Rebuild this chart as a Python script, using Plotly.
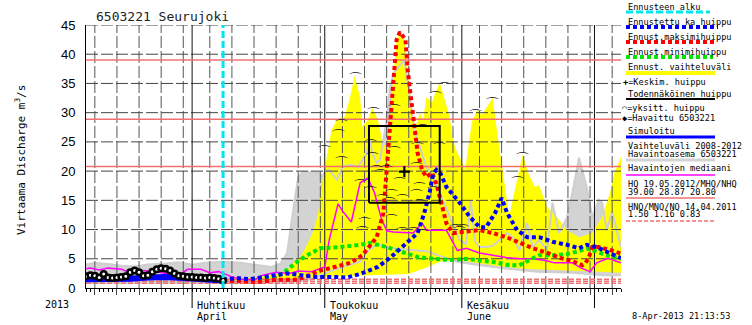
import plotly.graph_objects as go
import pandas as pd

YEAR = "2013"


def to_dates(items):
    out = []
    for s in items:
        if " " in s:
            day, hour = s.split(" ")
            out.append(pd.Timestamp(f"{YEAR}-{day} {hour}:00"))
        else:
            out.append(pd.Timestamp(f"{YEAR}-{s}"))
    return out


# ---------------- data ----------------
station_title = "6503221 Seurujoki"
y_title = "Virtaama Discharge m<sup>3</sup>/s"
x_start, x_end = "03-08", "07-07"
forecast_start = "04-08"
run_stamp = "8-Apr-2013 21:13:53"
year_label = "2013"
month_starts = ["04-01", "05-01", "06-01", "07-01"]
month_fi = ["Huhtikuu", "Toukokuu", "Kesäkuu", "Heinäkuu"]
month_en = ["April", "May", "June", "July"]
y_ticks = [0, 5, 10, 15, 20, 25, 30, 35, 40, 45]
grid_days = [5, 10, 15, 20, 25, 30]

hq_values = [39.00, 28.87, 20.80]      # HQ / MHQ / NHQ
hq_date = "19.05.2012"
lowq_values = [1.50, 1.16, 0.83]       # HNQ / MNQ / NQ
lowq_date = "14.04.2011"

# observed (Havaittu)
obs_dates = [f"03-{d:02d}" for d in range(8, 32)] + [f"04-{d:02d}" for d in range(1, 9)]
obs_values = [2.0, 2.2, 2.1, 1.8, 2.4, 1.8, 1.7, 1.8, 1.9, 2.0, 2.7, 3.0, 2.7, 2.1,
              2.2, 2.8, 3.2, 3.4, 3.3, 3.0, 2.5, 2.1, 2.0, 1.9, 1.9, 1.8, 1.8, 1.7,
              1.8, 1.7, 1.6, 1.3]

# simulated (Simuloitu)
sim_dates = ["03-08", "03-13", "03-18", "03-22", "03-26", "03-30", "04-03", "04-06", "04-08"]
sim_values = [1.5, 1.5, 1.6, 1.8, 1.9, 1.7, 1.6, 1.5, 1.3]

# median of observations (Havaintojen mediaani)
med_dates = ["03-08", "03-09", "03-11", "03-13", "03-16", "03-18", "03-21", "03-24", "03-26",
             "03-29", "03-31", "04-03", "04-05", "04-07", "04-10", "04-12", "04-15", "04-17",
             "04-20", "04-23", "04-25", "04-28", "05-01", "05-02", "05-04", "05-05", "05-07",
             "05-09", "05-10 18", "05-12 06", "05-13 18", "05-15", "05-16 12", "05-21", "05-23",
             "05-24", "05-28 12", "05-31", "06-02", "06-05", "06-08", "06-11", "06-14",
             "06-17", "06-20", "06-22", "06-26", "06-28", "06-30", "07-01 12", "07-04",
             "07-06 12", "07-07"]
med_values = [3.3, 3.4, 3.1, 3.4, 3.2, 2.6, 3.0, 2.8, 2.5, 2.2, 3.2, 3.2, 2.6, 2.8, 1.9,
              1.5, 1.4, 2.2, 2.7, 2.5, 2.9, 2.8, 3.6, 8.2, 14.4, 13.2, 11.3, 18.0, 18.8,
              16.3, 12.0, 9.8, 9.6, 9.4, 11.1, 9.9, 9.9, 6.4, 6.8, 6.0, 5.6, 5.2, 5.0,
              5.0, 4.7, 4.3, 4.3, 3.4, 2.8, 4.3, 5.1, 4.5, 4.3]

# forecast mean (Ennustettu ka huippu)
mean_dates = ["04-08", "04-11", "04-14", "04-18", "04-20", "04-22 12", "04-25 12", "04-29",
              "05-03", "05-06", "05-09", "05-13", "05-16", "05-18 12", "05-22", "05-23 12",
              "05-24 18", "05-25 12", "05-26 06", "05-27 06", "05-28 12", "05-31 12",
              "06-02 18", "06-05", "06-06 12", "06-08 12", "06-10", "06-11 06", "06-13 12",
              "06-15 18", "06-18 12", "06-21 12", "06-24 18", "06-27 12", "06-29 06",
              "07-01 12", "07-03 18", "07-06 12", "07-07"]
mean_values = [1.4, 1.7, 1.5, 1.9, 2.2, 2.5, 2.2, 1.9, 1.9, 1.8, 2.4, 3.6, 5.3, 7.0, 9.4,
               12.8, 16.5, 19.5, 20.2, 19.5, 17.3, 14.6, 12.2, 10.4, 10.4, 12.8, 15.4, 12.8,
               9.9, 8.7, 8.7, 7.9, 7.4, 6.8, 7.4, 7.0, 6.2, 5.3, 5.1]

# forecast maximum (Ennust. maksimihuippu)
max_dates = ["04-08", "04-12", "04-15 18", "04-20", "04-24 18", "04-27 12", "04-30",
             "05-02 18", "05-06 18", "05-09 12", "05-12 18", "05-14 06", "05-15", "05-15 18",
             "05-16 12", "05-17 06", "05-18", "05-19 06", "05-19 18", "05-20 18", "05-21 12",
             "05-22", "05-23", "05-24", "05-25 06", "05-26 06", "05-27 18", "05-28 12",
             "05-30", "05-31", "06-02 18", "06-05", "06-08", "06-11", "06-14", "06-17",
             "06-20", "06-23", "06-26", "06-28 06", "06-29", "06-29 18", "06-30 12", "07-02",
             "07-04 12", "07-06 12", "07-07"]
max_values = [1.3, 1.1, 1.0, 1.4, 1.4, 2.2, 3.0, 3.5, 4.3, 5.6, 8.7, 12.8, 20.2, 28.8, 36.0,
              42.5, 43.8, 42.5, 37.3, 30.5, 25.9, 23.1, 20.2, 19.0, 19.7, 17.8, 13.4, 11.1,
              9.4, 9.5, 9.8, 9.9, 9.4, 8.7, 7.8, 6.8, 6.1, 5.2, 4.6, 3.9, 4.3, 5.3, 7.0, 7.0,
              6.5, 6.0, 5.9]

# forecast minimum (Ennust. minimihuippu)
min_dates = ["04-08", "04-15", "04-20", "04-21 12", "04-24 18", "04-27", "04-30", "05-04 12",
             "05-09", "05-11 06", "05-15", "05-18", "05-22", "05-25 12", "05-29 06", "06-02",
             "06-05", "06-08 12", "06-11 18", "06-14", "06-15 18", "06-18 12", "06-21 12",
             "06-24 18", "06-27 12", "06-29 06", "07-01 12", "07-03 18", "07-06 12", "07-07"]
min_values = [1.4, 1.5, 2.0, 2.5, 4.5, 5.6, 6.8, 7.0, 7.4, 7.7, 7.0, 6.2, 5.3, 5.0, 4.8, 5.0,
              4.7, 4.4, 3.9, 3.9, 4.6, 5.6, 5.6, 5.8, 6.3, 6.8, 6.2, 5.6, 5.1, 5.0]

# forecast range (Ennust. vaihteluväli)
fc_hi_dates = ["04-08", "04-15", "04-20", "04-22 12", "04-24", "04-25 12", "04-27", "04-28 12",
               "04-29 12", "04-30 12", "05-01 18", "05-02 12", "05-03 18", "05-05 12",
               "05-06 18", "05-07 18", "05-09", "05-09 12", "05-10 18", "05-11 18", "05-13",
               "05-14", "05-15", "05-15 18", "05-16 12", "05-17 06", "05-18", "05-19",
               "05-19 18", "05-20 18", "05-21 12", "05-22 12", "05-23 06", "05-24", "05-25 06",
               "05-26", "05-27", "05-28", "05-29 06", "05-30", "05-31", "05-31 12", "06-01 18",
               "06-03 06", "06-04 12", "06-05 12", "06-07 06", "06-08", "06-09", "06-10 06",
               "06-11 18", "06-12 12", "06-13 18", "06-14 18", "06-16", "06-17 12", "06-18 12",
               "06-20 06", "06-22 12", "06-24 18", "06-27 12", "06-30 12", "07-02 18",
               "07-04 12", "07-05 12", "07-07"]
fc_hi_values = [1.5, 1.8, 2.4, 3.0, 4.5, 5.3, 7.4, 9.9, 12.8, 18.5, 23.6, 27.0, 28.8, 29.3,
                32.7, 36.3, 32.7, 27.6, 28.8, 30.8, 28.8, 25.3, 23.6, 29.0, 36.0, 42.5, 43.8,
                42.5, 37.3, 30.5, 27.6, 30.0, 28.8, 32.7, 31.7, 33.4, 35.1, 32.7, 29.3, 25.3,
                23.1, 22.4, 20.2, 28.3, 30.5, 29.6, 31.7, 32.5, 26.5, 19.7, 12.2, 15.1, 19.7,
                22.8, 19.7, 17.3, 17.6, 13.9, 12.2, 9.9, 8.7, 9.4, 12.2, 16.3, 19.7, 22.4]
fc_lo_dates = ["04-08", "04-15", "04-22", "04-26", "04-30", "05-10", "05-20", "05-24", "05-27",
               "05-31", "06-04", "06-10", "06-15", "06-20", "06-25", "06-30", "07-07"]
fc_lo_values = [1.3, 1.2, 1.4, 1.8, 2.0, 2.2, 2.4, 3.5, 4.5, 4.8, 4.3, 3.7, 3.3, 3.1, 2.9,
                2.8, 2.6]

# range 2008-2012 (Vaihteluväli 2008-2012)
hist_hi_dates = ["03-08", "03-10", "03-13", "03-16", "03-19", "03-22", "03-26", "03-29",
                 "04-01", "04-04", "04-08", "04-12", "04-16", "04-19", "04-21", "04-22 12",
                 "04-23 18", "04-25", "04-26", "04-28 12", "04-29 18", "04-30 12", "05-01",
                 "05-02", "05-03 18", "05-05", "05-07", "05-08 12", "05-09 12", "05-10 12",
                 "05-11 06", "05-11 18", "05-12 18", "05-13 12", "05-14", "05-15", "05-15 18",
                 "05-16 18", "05-19", "05-20 06", "05-21", "05-21 18", "05-22 12", "05-24",
                 "05-25 12", "05-27", "05-28 12", "05-30", "05-31 12", "06-02", "06-03",
                 "06-04", "06-05", "06-06 12", "06-08", "06-11 06", "06-12 12", "06-14",
                 "06-15 18", "06-17", "06-18 12", "06-20 06", "06-21 12", "06-23", "06-24 18",
                 "06-26", "06-27 12", "06-29 06", "06-30 12", "07-02", "07-02 18", "07-03 18",
                 "07-05", "07-07"]
hist_hi_values = [4.0, 4.3, 4.1, 3.8, 3.7, 4.0, 4.2, 4.4, 4.0, 4.3, 4.5, 4.3, 3.9, 3.6, 4.2,
                  6.0, 12.8, 19.0, 19.9, 19.7, 19.7, 19.0, 19.9, 20.2, 18.5, 20.7, 21.1, 20.7,
                  21.9, 23.1, 25.3, 23.1, 21.4, 21.9, 24.1, 28.8, 34.4, 37.0, 39.0, 32.7, 28.8,
                  25.9, 24.1, 20.7, 19.0, 16.3, 13.9, 11.0, 8.2, 7.5, 15.1, 8.0, 7.0, 7.0, 7.2,
                  9.4, 8.7, 6.5, 11.1, 7.0, 8.2, 6.5, 14.6, 9.4, 12.0, 16.3, 22.3, 17.3, 12.0,
                  15.1, 14.6, 9.9, 13.0, 7.0]
hist_lo_dates = ["03-08", "04-24", "04-28", "05-02", "05-05", "05-09", "05-11", "05-13",
                 "05-16", "05-20", "05-24", "05-27", "05-31", "06-04", "06-10", "06-18",
                 "06-26", "07-03", "07-07"]
hist_lo_values = [0.85, 0.9, 1.5, 2.8, 3.6, 4.5, 6.5, 7.5, 6.8, 6.5, 6.3, 5.5, 4.5, 4.0, 3.4,
                  2.8, 2.6, 2.2, 2.2]

# single scenario peaks (yksitt. huippu)
peak_dates = ["05-01", "05-04", "05-04 18", "05-04 18", "05-08", "05-09", "05-10", "05-09 12",
              "05-11 06", "05-11 18", "05-12", "05-12 18", "05-13 12", "05-11 06", "05-15 18",
              "05-16", "05-16 18", "05-16 18", "05-18", "05-18 12", "05-18 12", "05-21",
              "05-21 18", "05-22", "05-22 12", "05-22 12", "05-23", "05-21 18", "05-25 12",
              "05-27", "05-26", "05-28", "05-30 12", "05-31 12", "06-01 06", "06-04", "06-08",
              "06-13 12", "06-14 18", "05-23", "05-14", "05-15", "05-16"]
peak_values = [24.3, 27.0, 28.8, 22.4, 36.8, 18.5, 12.0, 10.4, 25.3, 23.1, 30.8, 21.0, 20.2,
               17.3, 15.4, 16.8, 24.1, 31.3, 18.8, 15.9, 10.3, 10.3, 16.8, 24.8, 18.0, 15.1,
               10.0, 21.4, 17.3, 24.8, 33.6, 35.1, 10.8, 10.4, 10.8, 30.5, 32.5, 19.0, 23.1,
               27.9, 15.9, 21.0, 12.5]

# probable peak (Todennäköinen huippu) and mean peak (Keskim. huippu)
box_dates = ["05-11", "05-27"]
box_values = [14.6, 27.7]
mean_peak_date = "05-19"
mean_peak_value = 19.9

# ---------------- styles ----------------
C_GRAY = "#d3d3d3"
C_YEL = "#ffff00"
C_RED = "#ff0000"
C_BLUE = "#0000ff"
C_GREEN = "#00e600"
C_MAG = "#ff00ff"
C_CYAN = "#00e5ee"
C_HQ = "#f07070"
DOT = "4px,3px"
MONO = "DejaVu Sans Mono"

PLOT_L, PLOT_R, PLOT_T, PLOT_B = 86, 621, 25, 288


def px_x(p):
    return (p - PLOT_L) / (PLOT_R - PLOT_L)


def px_y(p):
    return (PLOT_B - p) / (PLOT_B - PLOT_T)


X0, X1 = to_dates([x_start, x_end])
fig = go.Figure()

# gray historical band
hh, hl = to_dates(hist_hi_dates), to_dates(hist_lo_dates)
fig.add_trace(go.Scatter(x=hh + hl[::-1], y=hist_hi_values + hist_lo_values[::-1],
                         fill="toself", fillcolor=C_GRAY, line=dict(width=0), mode="lines"))
# yellow forecast band
fh, fl = to_dates(fc_hi_dates), to_dates(fc_lo_dates)
fig.add_trace(go.Scatter(x=fh + fl[::-1], y=fc_hi_values + fc_lo_values[::-1],
                         fill="toself", fillcolor=C_YEL, line=dict(width=0), mode="lines"))
# gray band edges visible over yellow
fig.add_trace(go.Scatter(x=hh, y=hist_hi_values, mode="lines", line=dict(color="#cfcfcf", width=2)))
fig.add_trace(go.Scatter(x=hl, y=hist_lo_values, mode="lines", line=dict(color="#cfcfcf", width=2)))

# grid lines (drawn above the bands, as in the original)
grid_x = []
for m in [3, 4, 5, 6, 7]:
    for d in grid_days:
        t = pd.Timestamp(f"{YEAR}-{m:02d}-{d:02d}")
        if X0 < t < X1:
            grid_x.append(t)
gx, gy = [], []
for t in grid_x:
    gx += [t, t, None]
    gy += [0, 45, None]
fig.add_trace(go.Scatter(x=gx, y=gy, mode="lines", line=dict(color="#555555", width=1, dash="12px,3px")))
hx, hy = [], []
for v in y_ticks[1:]:
    hx += [X0, X1, None]
    hy += [v, v, None]
fig.add_trace(go.Scatter(x=hx, y=hy, mode="lines", line=dict(color="#444444", width=1, dash="12px,3px")))
ms = to_dates(month_starts)
mx, my = [], []
for t in ms:
    mx += [t, t, None]
    my += [0, 45, None]
fig.add_trace(go.Scatter(x=mx, y=my, mode="lines", line=dict(color="#111111", width=1)))

# HQ / MHQ / NHQ and HNQ / MNQ / NQ
for v in hq_values:
    fig.add_trace(go.Scatter(x=[X0, X1], y=[v, v], mode="lines", line=dict(color=C_HQ, width=1.5)))
for v in lowq_values:
    fig.add_trace(go.Scatter(x=[X0, X1], y=[v, v], mode="lines",
                             line=dict(color=C_HQ, width=1.5, dash="5px,2px")))

# series
fig.add_trace(go.Scatter(x=to_dates(med_dates), y=med_values, mode="lines", line=dict(color=C_MAG, width=1.5)))
fig.add_trace(go.Scatter(x=to_dates(min_dates), y=min_values, mode="lines", line=dict(color=C_GREEN, width=4, dash=DOT)))
fig.add_trace(go.Scatter(x=to_dates(max_dates), y=max_values, mode="lines", line=dict(color=C_RED, width=4, dash=DOT)))
fig.add_trace(go.Scatter(x=to_dates(mean_dates), y=mean_values, mode="lines", line=dict(color=C_BLUE, width=4, dash=DOT)))
fig.add_trace(go.Scatter(x=to_dates(sim_dates), y=sim_values, mode="lines", line=dict(color=C_BLUE, width=6)))
fig.add_trace(go.Scatter(x=to_dates(obs_dates), y=obs_values, mode="markers",
                         marker=dict(symbol="circle", size=5.5, color="white", line=dict(color="black", width=2.5))))

# single peaks as arcs
fig.add_trace(go.Scatter(x=to_dates(peak_dates), y=peak_values, mode="text", text=["⌒"] * len(peak_values),
                         textposition="bottom center",
                         textfont=dict(family="DejaVu Sans", size=15, color="#222222")))

# probable peak box
bx0, bx1 = to_dates(box_dates)
fig.add_trace(go.Scatter(x=[bx0, bx1, bx1, bx0, bx0],
                         y=[box_values[0], box_values[0], box_values[1], box_values[1], box_values[0]],
                         mode="lines", line=dict(color="black", width=2)))
fig.add_trace(go.Scatter(x=to_dates([mean_peak_date]), y=[mean_peak_value], mode="markers",
                         marker=dict(symbol="cross-thin", size=8, line=dict(color="black", width=2.2))))

# forecast start
fs = to_dates([forecast_start])[0]
fig.add_trace(go.Scatter(x=[fs, fs], y=[0, 45], mode="lines", line=dict(color=C_CYAN, width=3, dash="7px,3px")))

# ---------------- layout ----------------
shapes = []
annotations = []
# month tick lines below the axis
for t in ms:
    shapes.append(dict(type="line", xref="x", yref="paper", x0=t, x1=t, y0=px_y(308), y1=0,
                       line=dict(color="black", width=1)))
for t, fi, en in zip(ms, month_fi, month_en):
    if t < X1 - pd.Timedelta(days=10):
        annotations.append(dict(x=t, y=px_y(305), xref="x", yref="paper", text=fi, showarrow=False,
                                xanchor="left", yanchor="middle", xshift=3,
                                font=dict(family=MONO, size=10, color="black")))
        annotations.append(dict(x=t, y=px_y(316), xref="x", yref="paper", text=en, showarrow=False,
                                xanchor="left", yanchor="middle", xshift=3,
                                font=dict(family=MONO, size=10, color="black")))

annotations.append(dict(x=px_x(43), y=px_y(304), xref="paper", yref="paper", text=year_label,
                        showarrow=False, xanchor="left", yanchor="middle",
                        font=dict(family=MONO, size=10, color="black")))
annotations.append(dict(x=px_x(94), y=px_y(16), xref="paper", yref="paper", text=station_title,
                        showarrow=False, xanchor="left", yanchor="middle",
                        font=dict(family=MONO, size=13, color="#222222")))
annotations.append(dict(x=px_x(20), y=px_y(160), xref="paper", yref="paper", text=y_title,
                        showarrow=False, textangle=-90, xanchor="center", yanchor="middle",
                        font=dict(family=MONO, size=11, color="black")))
annotations.append(dict(x=px_x(630), y=px_y(316), xref="paper", yref="paper", text=run_stamp,
                        showarrow=False, xanchor="left", yanchor="middle",
                        font=dict(family=MONO, size=8.6, color="black")))

legend_texts = [
    ("Ennusteen alku", 626, 7),
    ("Ennustettu ka huippu", 626, 22),
    ("Ennust.maksimihuippu", 626, 37),
    ("Ennust.minimihuippu", 626, 52),
    ("Ennust. vaihteluväli", 626, 67),
    ("<b>+</b>=Keskim. huippu", 621, 82),
    ("Todennäköinen huippu", 626, 94),
    ("⌒=yksitt. huippu", 620, 108),
    ("◆=Havaittu 6503221", 620, 118),
    ("Simuloitu", 626, 131),
    ("Vaihteluväli 2008-2012", 626, 146),
    ("Havaintoasema 6503221", 626, 154),
    ("Havaintojen mediaani", 626, 168),
    (f"HQ {hq_date}/MHQ/NHQ", 626, 184),
    (" ".join(f"{v:.2f}" for v in hq_values), 626, 192),
    (f"HNQ/MNQ/NQ {lowq_date}", 626, 207),
    (" ".join(f"{v:.2f}" for v in lowq_values), 626, 214),
]
for txt, x, y in legend_texts:
    annotations.append(dict(x=px_x(x), y=px_y(y), xref="paper", yref="paper", text=txt,
                            showarrow=False, xanchor="left", yanchor="middle",
                            font=dict(family=MONO, size=8.6, color="black")))

legend_lines = [
    (12, C_CYAN, 3, "7px,3px", 710),
    (27, C_BLUE, 4, DOT, 718),
    (42, C_RED, 4, DOT, 715),
    (57, C_GREEN, 4, DOT, 713),
    (73, C_YEL, 4, "solid", 715),
    (99, "#000000", 2, "solid", 715),
    (137, C_BLUE, 3, "solid", 715),
    (160, C_GRAY, 3, "solid", 715),
    (175, C_MAG, 1.5, "solid", 715),
    (198, C_HQ, 1.5, "solid", 715),
    (221, C_HQ, 1.5, "4px,2px", 715),
]
for y, col, w, dash, xe in legend_lines:
    shapes.append(dict(type="line", xref="paper", yref="paper", x0=px_x(626), x1=px_x(xe),
                       y0=px_y(y), y1=px_y(y), line=dict(color=col, width=w, dash=dash)))

fig.update_layout(
    width=752, height=325,
    margin=dict(l=PLOT_L, r=752 - PLOT_R, t=PLOT_T, b=325 - PLOT_B),
    paper_bgcolor="white", plot_bgcolor="white",
    showlegend=False,
    shapes=shapes, annotations=annotations,
    xaxis=dict(type="date", range=[X0, X1], showgrid=False, zeroline=False,
               showline=True, linecolor="black", linewidth=1,
               tickmode="array", tickvals=grid_x, ticks="outside", ticklen=6,
               tickcolor="#444444", showticklabels=False,
               minor=dict(dtick=86400000, tick0=X0, ticks="outside", ticklen=3,
                          tickcolor="black", showgrid=False)),
    yaxis=dict(range=[0, 45], showgrid=False, zeroline=False, showline=True,
               linecolor="black", linewidth=1, tickmode="array", tickvals=y_ticks,
               ticks="", ticklabelstandoff=7,
               tickfont=dict(family="Liberation Sans", size=13, color="black")),
)

fig.write_html("out.html", config={"displayModeBar": False},
               post_script="document.body.style.margin='0px';")
